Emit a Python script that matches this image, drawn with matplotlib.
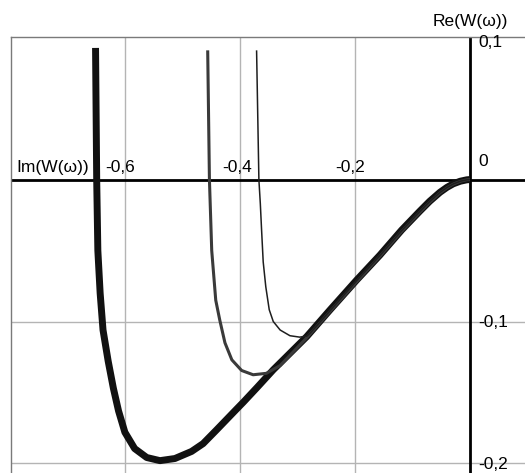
import matplotlib
matplotlib.use("Agg")
import matplotlib.pyplot as plt

plt.rcParams['font.family'] = ['Liberation Sans', 'DejaVu Sans']

# Curve data (Im on x, Re on y)
thick_x = [-0.651, -0.649, -0.647, -0.643, -0.638, -0.629, -0.620, -0.611, -0.600,
           -0.583, -0.562, -0.539, -0.513, -0.484, -0.464, -0.441, -0.406, -0.394,
           -0.370, -0.342, -0.284, -0.2435, -0.197, -0.1565, -0.1188, -0.087,
           -0.070, -0.0522, -0.040, -0.029, -0.017, -0.0057, 0.0]
thick_y = [0.0927, 0.0, -0.050, -0.080, -0.106, -0.128, -0.147, -0.163, -0.178,
           -0.1895, -0.1958, -0.198, -0.1965, -0.1915, -0.186, -0.1765, -0.1618, -0.1568,
           -0.1464, -0.134, -0.1107, -0.0919, -0.0708, -0.0532, -0.0356, -0.0222,
           -0.0153, -0.0090, -0.0055, -0.0030, -0.0012, -0.0002, 0.0]

medium_x = [-0.456, -0.453, -0.449, -0.442, -0.435, -0.426, -0.414, -0.397, -0.377,
            -0.354, -0.330, -0.284, -0.2435, -0.197, -0.1565, -0.1188, -0.087,
            -0.070, -0.0522, -0.040, -0.029, -0.017, -0.0057, 0.0]
medium_y = [0.091, 0.0, -0.050, -0.085, -0.099, -0.115, -0.127, -0.1345, -0.1375,
            -0.1365, -0.131, -0.1115, -0.093, -0.072, -0.054, -0.0365, -0.023,
            -0.016, -0.0094, -0.0058, -0.0032, -0.0013, -0.0002, 0.0]

thin_x = [-0.371, -0.367, -0.3645, -0.3623, -0.3595, -0.355, -0.349, -0.342, -0.330,
          -0.313, -0.296, -0.284, -0.278, -0.2435, -0.197, -0.1565, -0.1188, -0.087,
          -0.070, -0.0522, -0.040, -0.029, -0.017, -0.0057, 0.0]
thin_y = [0.091, 0.0, -0.017, -0.0356, -0.058, -0.0755, -0.0917, -0.100, -0.106,
          -0.110, -0.111, -0.1103, -0.1083, -0.0925, -0.0712, -0.0535, -0.036,
          -0.0225, -0.0155, -0.0091, -0.0056, -0.0031, -0.0012, -0.0002, 0.0]

x_grid = [-0.6, -0.4, -0.2]
y_grid = [-0.1, -0.2]
x_labels = ['-0,6', '-0,4', '-0,2']
y_labels = ['0,1', '0', '-0,1', '-0,2']
y_label_vals = [0.0968, 0.013, -0.1004, -0.201]

fig = plt.figure(figsize=(5.25, 4.73), dpi=100)
ax = fig.add_axes([11 / 525, 0, 1 - 11 / 525, 1 - 37 / 473])
ax.set_xlim(-0.798, 0.0957)
ax.set_ylim(-0.2067, 0.1004)
ax.set_xticks([])
ax.set_yticks([])
for s in ['right', 'bottom']:
    ax.spines[s].set_visible(False)
for s in ['left', 'top']:
    ax.spines[s].set_color('#7a7a7a')
    ax.spines[s].set_linewidth(1.0)

for xv in x_grid:
    ax.axvline(xv, color='#b4b4b4', lw=1.0, zorder=1)
for yv in y_grid:
    ax.axhline(yv, color='#b4b4b4', lw=1.0, zorder=1)

ax.axhline(0, color='black', lw=2.0, zorder=2)
ax.axvline(0, color='black', lw=2.0, zorder=2)

ax.plot(thick_x, thick_y, color='#111111', lw=5.0, solid_capstyle='butt',
        solid_joinstyle='round', zorder=3)
ax.plot(medium_x, medium_y, color='#3a3a3a', lw=2.2, solid_capstyle='butt',
        solid_joinstyle='round', zorder=4)
ax.plot(thin_x, thin_y, color='#1e1e1e', lw=1.1, solid_capstyle='butt',
        solid_joinstyle='round', zorder=5)

fs = 12.5
for xv, lab in zip([-0.6087, -0.4047, -0.2087], x_labels):
    ax.text(xv, 0.0085, lab, ha='center', va='center', fontsize=fs, zorder=6)
ax.text(-0.726, 0.0085, 'Im(W(\u03c9))', ha='center', va='center', fontsize=fs, zorder=6)
for yv, lab in zip(y_label_vals, y_labels):
    ax.text(0.0145, yv, lab, ha='left', va='center', fontsize=fs, zorder=6, clip_on=False)
ax.text(0.001, 0.1116, 'Re(W(\u03c9))', ha='center', va='center', fontsize=fs,
        clip_on=False)

fig.savefig('out.png', dpi=100)
